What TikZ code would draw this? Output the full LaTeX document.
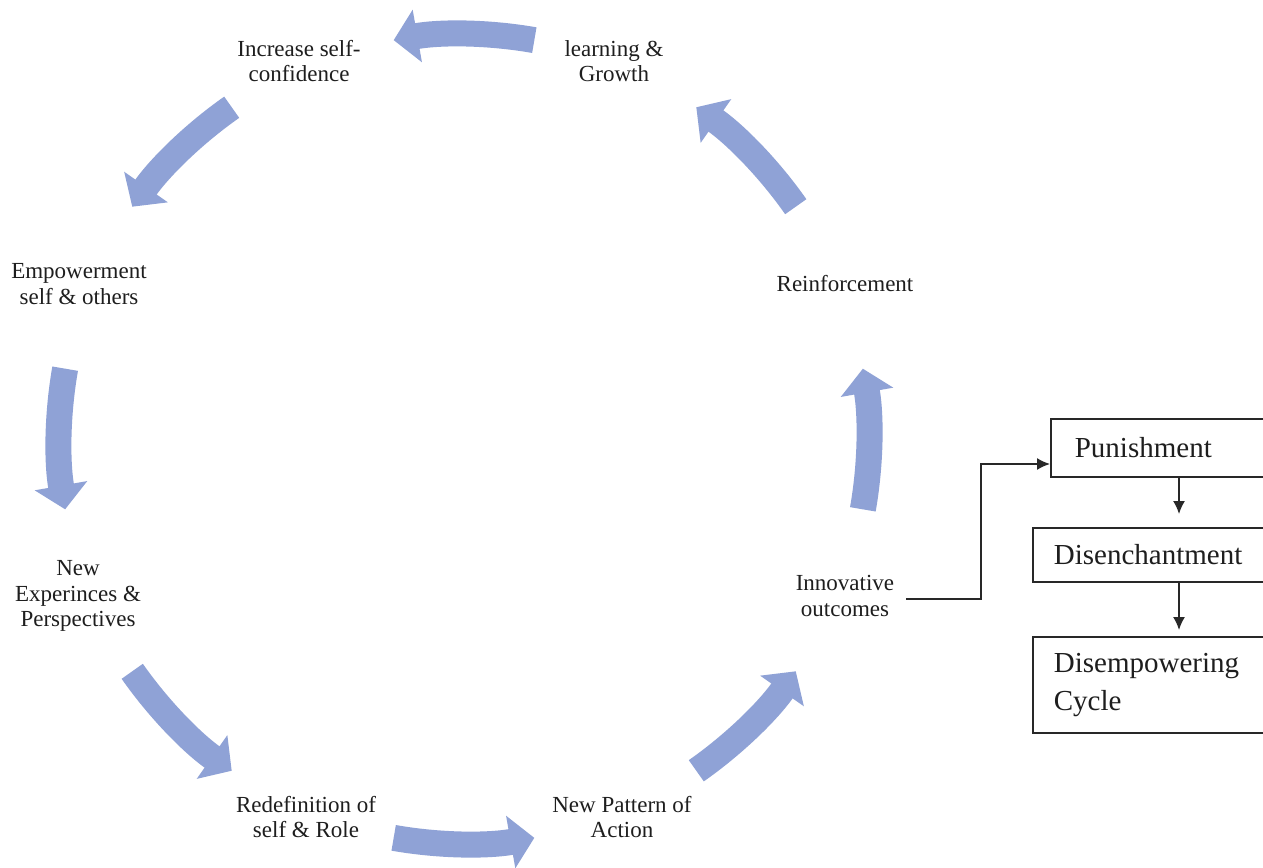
\documentclass[tikz,border=0pt]{standalone}
\usepackage{fontspec}
\setmainfont{Liberation Serif}
\usetikzlibrary{arrows.meta}
\definecolor{cyclearrow}{RGB}{143,162,214}
\definecolor{lineink}{RGB}{40,40,40}
\definecolor{textink}{RGB}{30,30,30}

\begin{document}
\begin{tikzpicture}[x=1pt,y=-1pt,
  stage/.style={align=center, text=textink, inner sep=2pt,
    font=\fontsize{23}{25.5}\selectfont},
  turn/.style={draw=cyclearrow, fill=cyclearrow, line width=26pt, line cap=butt,
    -{Triangle[length=24pt,width=52pt]}},
  outbox/.style={draw=lineink, line width=1.7pt, anchor=north west, align=left,
    text=textink, inner ysep=0pt, font=\fontsize{29}{38}\selectfont},
  conn/.style={draw=lineink, line width=1.6pt, -{Latex[length=13pt,width=12pt]}}
]
\useasboundingbox (0,0) rectangle (1263,867);
\fill[white] (0,0) rectangle (1263,867);

% centre of the empowering cycle
\coordinate (C) at (464,439);

% eight curved block arrows running counter-clockwise round the cycle
\foreach \a in {-90,-135,180,135,90,45,0,-45}
  \draw[turn] (C) ++(\a+10:405) arc[start angle=\a+10, end angle=\a-10, radius=405];

% stages of the cycle
\node[stage] (conf) at (299,61)  {Increase self-\\confidence};
\node[stage] (grow) at (614,61)  {learning \&\\Growth};
\node[stage] (emp)  at (79,284)  {Empowerment\\self \& others};
\node[stage] (rein) at (845,284) {Reinforcement};
\node[stage] (newx) at (78,596)  {New\\Experinces \&\\Perspectives};
\node[stage] (inn)  at (845,596) {Innovative\\outcomes};
\node[stage] (redef) at (306,817) {Redefinition of\\self \& Role};
\node[stage] (patt) at (622,817) {New Pattern of\\Action};

% the disempowering branch
\node[outbox, inner xsep=24pt, text width=177pt, minimum height=58pt] (pun) at (1050,418) {Punishment};
\node[outbox, inner xsep=21pt, text width=201pt, minimum height=54pt] (dis) at (1032,527) {Disenchantment};
\node[outbox, inner xsep=21pt, text width=201pt, minimum height=96pt] (dcy) at (1032,636) {Disempowering\\Cycle};

\coordinate (xa) at (1179,0);
\coordinate (jn) at (981,599);
\coordinate (kn) at (981,464);

\draw[conn] ([xshift=10pt]inn.east |- jn) -- (jn) -- (kn) -- (pun.west |- kn);
\draw[conn] (pun.south -| xa) -- ([yshift=13pt]dis.north -| xa);
\draw[conn] (dis.south -| xa) -- ([yshift=6pt]dcy.north -| xa);
\end{tikzpicture}
\end{document}
